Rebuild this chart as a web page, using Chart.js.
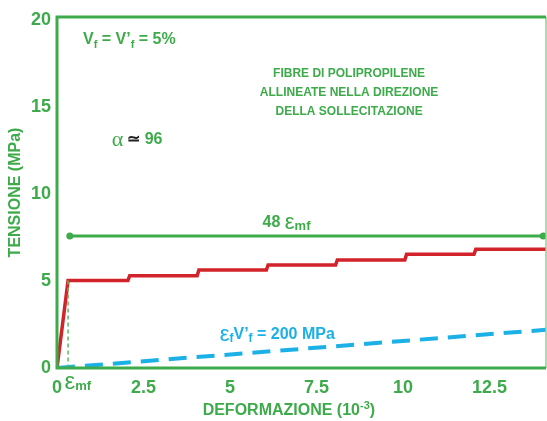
<!DOCTYPE html>
<html>
<head>
<meta charset="utf-8">
<script src="https://cdn.jsdelivr.net/npm/chart.js@4"></script>
<style>
  html, body { margin: 0; padding: 0; background: #fff; }
  #wrap { width: 547px; height: 421px; }
</style>
</head>
<body>
<div id="wrap"><canvas id="fibreChart"></canvas></div>
<script>
// valori (deformazione in 10^-3, tensione in MPa)
const redX = [0, 0.32, 2.05, 2.1, 4.05, 4.1, 6.05, 6.1, 8.05, 8.1, 10.05, 10.1, 12.05, 12.1, 14.13];
const redY = [0, 5.04, 5.04, 5.31, 5.31, 5.64, 5.64, 5.93, 5.93, 6.22, 6.22, 6.54, 6.54, 6.83, 6.83];
const mfX = [0.37, 14.05];
const mfY = [7.6, 7.6];
const fibX = [0, 14.13];
const fibY = [0, 2.2];
const emfX = [0.32, 0.32];
const emfY = [5.04, 0];
const xTicks = [0, 2.5, 5, 7.5, 10, 12.5];
const yTicks = [0, 5, 10, 15, 20];

const GREEN = 'rgb(61,171,74)';
const RED = 'rgb(211,35,42)';
const BLUE = 'rgb(27,176,230)';
const FONT = "'Liberation Sans', Arial, sans-serif";

function toXY(xs, ys) {
  return xs.map((x, i) => ({ x: x, y: ys[i] }));
}

// scrive una riga di testo con pezzi di stile diverso (pedici ecc.)
function richText(ctx, x, y, parts) {
  let cx = x;
  parts.forEach(p => {
    ctx.font = p.font;
    ctx.fillStyle = p.color;
    ctx.fillText(p.t, cx, y + (p.dy || 0));
    cx += ctx.measureText(p.t).width + (p.gap || 0);
  });
}

const frameAndNotes = {
  id: 'frameAndNotes',
  afterDraw(chart) {
    const ctx = chart.ctx;
    const a = chart.chartArea;
    const sx = chart.scales.x, sy = chart.scales.y;
    ctx.save();
    // cornice
    ctx.strokeStyle = 'rgb(140,210,140)';
    ctx.lineWidth = 1.5;
    ctx.beginPath();
    ctx.moveTo(a.right, a.top);
    ctx.lineTo(a.right, a.bottom);
    ctx.stroke();
    ctx.strokeStyle = GREEN;
    ctx.lineWidth = 3;
    ctx.beginPath();
    ctx.moveTo(a.right, a.top);
    ctx.lineTo(a.left, a.top);
    ctx.lineTo(a.left, a.bottom);
    ctx.lineTo(a.right, a.bottom);
    ctx.stroke();

    ctx.textBaseline = 'middle';
    ctx.textAlign = 'left';
    const B16 = 'bold 16px ' + FONT;
    const B11 = 'bold 11px ' + FONT;
    const EPS = "22px 'Liberation Sans', sans-serif";

    richText(ctx, sx.getPixelForValue(0.75), sy.getPixelForValue(18.88), [
      { t: 'V', font: B16, color: GREEN },
      { t: 'f', font: B11, color: GREEN, dy: 5 },
      { t: ' = V\u2019', font: B16, color: GREEN },
      { t: 'f', font: B11, color: GREEN, dy: 5 },
      { t: ' = 5%', font: B16, color: GREEN }
    ]);

    ctx.textAlign = 'center';
    ctx.font = 'bold 12px ' + FONT;
    ctx.fillStyle = GREEN;
    const lines = ['FIBRE DI POLIPROPILENE', 'ALLINEATE NELLA DIREZIONE', 'DELLA SOLLECITAZIONE'];
    const lineY = [16.92, 15.83, 14.73];
    lines.forEach((l, i) => ctx.fillText(l, sx.getPixelForValue(8.44), sy.getPixelForValue(lineY[i])));
    ctx.textAlign = 'left';

    richText(ctx, sx.getPixelForValue(1.58), sy.getPixelForValue(13.12), [
      { t: '\u03b1', font: "22px 'Liberation Serif', serif", color: GREEN, gap: 4 },
      { t: '\u2243', font: 'bold 16px ' + FONT, color: '#222', gap: 0 },
      { t: ' 96', font: B16, color: GREEN }
    ]);

    richText(ctx, sx.getPixelForValue(5.94), sy.getPixelForValue(8.35), [
      { t: '48 ', font: B16, color: GREEN },
      { t: '\u03b5', font: EPS, color: GREEN },
      { t: 'mf', font: 'bold 13px ' + FONT, color: GREEN, dy: 4 }
    ]);

    richText(ctx, sx.getPixelForValue(4.7), sy.getPixelForValue(1.9), [
      { t: '\u03b5', font: EPS, color: BLUE },
      { t: 'f', font: 'bold 12px ' + FONT, color: BLUE, dy: 4 },
      { t: 'V\u2019', font: 'bold 16px ' + FONT, color: BLUE },
      { t: 'f', font: 'bold 12px ' + FONT, color: BLUE, dy: 4 },
      { t: ' = 200 MPa', font: 'bold 16px ' + FONT, color: BLUE }
    ]);

    // etichetta emf sotto l'asse
    richText(ctx, sx.getPixelForValue(0.22), a.bottom + 14, [
      { t: '\u03b5', font: "24px 'Liberation Sans', sans-serif", color: GREEN },
      { t: 'mf', font: 'bold 13px ' + FONT, color: GREEN, dy: 4 }
    ]);

    // titolo asse x
    ctx.font = 'bold 16px ' + FONT;
    const t1 = 'DEFORMAZIONE (10';
    const w1 = ctx.measureText(t1).width;
    ctx.font = 'bold 11px ' + FONT;
    const w2 = ctx.measureText('-3').width;
    ctx.font = 'bold 16px ' + FONT;
    const w3 = ctx.measureText(')').width;
    const tx = sx.getPixelForValue(6.7) - (w1 + w2 + w3) / 2;
    const ty = a.bottom + 43;
    richText(ctx, tx, ty, [
      { t: t1, font: 'bold 16px ' + FONT, color: GREEN },
      { t: '-3', font: 'bold 11px ' + FONT, color: GREEN, dy: -5 },
      { t: ')', font: 'bold 16px ' + FONT, color: GREEN }
    ]);
    ctx.restore();
  }
};

const ctx = document.getElementById('fibreChart').getContext('2d');
new Chart(ctx, {
  type: 'line',
  data: {
    datasets: [{
      data: toXY(emfX, emfY),
      borderColor: 'rgb(95,185,100)',
      borderWidth: 1.5,
      borderDash: [4, 3],
      pointRadius: 0
    }, {
      data: toXY(fibX, fibY),
      borderColor: BLUE,
      borderWidth: 4,
      borderDash: [18, 10],
      pointRadius: 0
    }, {
      data: toXY(redX, redY),
      borderColor: RED,
      borderWidth: 3.5,
      pointRadius: 0
    }, {
      data: toXY(mfX, mfY),
      borderColor: GREEN,
      backgroundColor: GREEN,
      borderWidth: 3,
      pointRadius: 3.5,
      pointBorderWidth: 0
    }]
  },
  options: {
    responsive: true,
    maintainAspectRatio: false,
    animation: false,
    layout: { autoPadding: false, padding: { top: 17, right: 1, left: 0, bottom: 0 } },
    plugins: { legend: { display: false }, tooltip: { enabled: false } },
    elements: { line: { tension: 0, fill: false } },
    scales: {
      x: {
        type: 'linear',
        min: 0,
        max: 14.13,
        grid: { display: false, drawTicks: false },
        border: { display: false },
        afterBuildTicks: s => { s.ticks = xTicks.map(v => ({ value: v })); },
        afterFit: s => { s.height = 53; s.paddingLeft = 0; s.paddingRight = 0; },
        ticks: {
          color: GREEN,
          font: { family: FONT, size: 18, weight: 'bold' },
          padding: 9,
          maxRotation: 0
        }
      },
      y: {
        min: 0,
        max: 20.2,
        grid: { display: false, drawTicks: false },
        border: { display: false },
        afterBuildTicks: s => { s.ticks = yTicks.map(v => ({ value: v })); },
        afterFit: s => { s.width = 57; s.paddingTop = 0; s.paddingBottom = 0; },
        ticks: {
          color: GREEN,
          font: { family: FONT, size: 18, weight: 'bold' },
          padding: 6
        },
        title: {
          display: true,
          text: 'TENSIONE (MPa)',
          color: GREEN,
          font: { family: FONT, size: 16, weight: 'bold' },
          padding: { top: 6, bottom: 0 }
        }
      }
    }
  },
  plugins: [frameAndNotes]
});
</script>
</body>
</html>
